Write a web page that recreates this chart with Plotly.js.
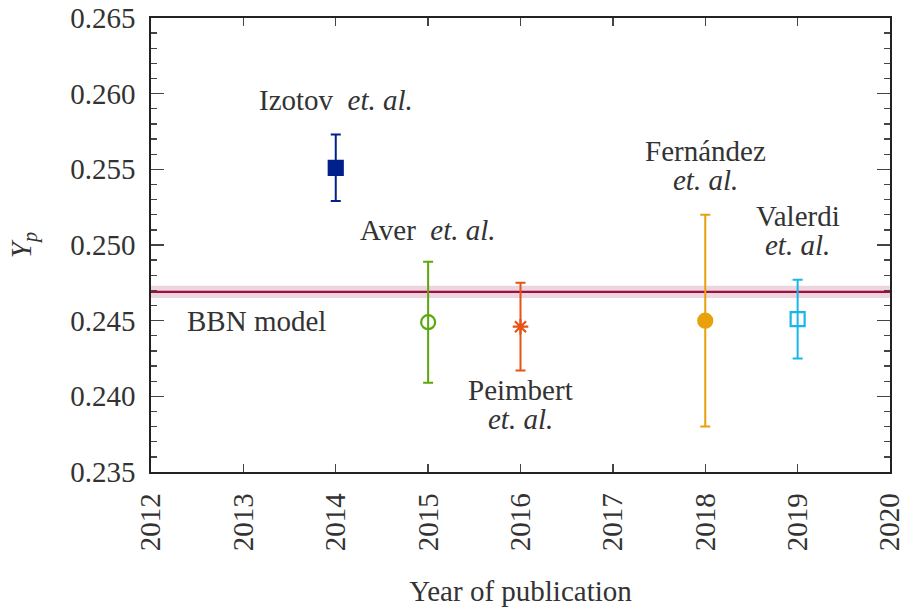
<!DOCTYPE html>
<html>
<head>
<meta charset="utf-8">
<script src="https://cdn.plot.ly/plotly-3.0.1.min.js"></script>
<style>
  body { margin: 0; }
  #chart text { font-family: "Liberation Serif" !important; }
</style>
</head>
<body>
<div id="chart" style="width:902px;height:610px"></div>
<script>
// Primordial helium abundance determinations by year of publication
const authors = ["Izotov", "Aver", "Peimbert", "Fernández", "Valerdi"];
const years = [2014, 2015, 2016, 2018, 2019];
const yp = [0.2551, 0.2449, 0.2446, 0.2450, 0.2451];
const ypErr = [0.0022, 0.0040, 0.0029, 0.0070, 0.0026];
const colors = ["#00208c", "#5aa80c", "#e65314", "#e8a10c", "#17b7ea"];
const symbols = ["square", "circle-open", "asterisk-open", "circle", "square-open"];

// BBN prediction and its uncertainty band
const bbnValue = 0.2469;
const bbnErr = 0.0004;
const yearRange = [2012, 2020];
const yTicks = [0.235, 0.240, 0.245, 0.250, 0.255, 0.260, 0.265];
const xTicks = [2012, 2013, 2014, 2015, 2016, 2017, 2018, 2019, 2020];

const SERIF = "Liberation Serif";
const TXT = "#333333";
const FS = 29;

const traces = [];
traces.push({
  x: [yearRange[0], yearRange[1], yearRange[1], yearRange[0]],
  y: [bbnValue - bbnErr, bbnValue - bbnErr, bbnValue + bbnErr, bbnValue + bbnErr],
  fill: "toself", fillcolor: "#ebd5de", mode: "none", hoverinfo: "skip", showlegend: false
});
traces.push({
  x: yearRange, y: [bbnValue, bbnValue], mode: "lines",
  line: {color: "#a10d40", width: 2.2}, showlegend: false
});
authors.forEach((a, i) => {
  traces.push({
    x: [years[i]], y: [yp[i]], name: a, mode: "markers", showlegend: false,
    error_y: {type: "data", array: [ypErr[i]], visible: true, color: colors[i], thickness: 2, width: 5},
    marker: {
      symbol: symbols[i], color: colors[i],
      size: symbols[i] === "asterisk-open" ? 13 : 14,
      line: {color: colors[i], width: 2.2}
    }
  });
});

// Labels next to each measurement
const ann = (x, y, text) => ({
  x, y, xref: "x", yref: "y", text, showarrow: false,
  font: {family: SERIF, size: FS, color: TXT}, xanchor: "center", yanchor: "middle"
});
const ea = "<i>et. al.</i>";
const annotations = [
  ann(2014.0, 0.2596, authors[0] + "  " + ea),
  ann(2015.0, 0.2510, authors[1] + "  " + ea),
  ann(2016.0, 0.2404, authors[2]),
  ann(2016.0, 0.2385, ea),
  ann(2018.0, 0.2562, authors[3]),
  ann(2018.0, 0.2543, ea),
  ann(2019.0, 0.2519, authors[4]),
  ann(2019.0, 0.2500, ea),
  ann(2013.14, 0.2450, "BBN model")
];

const layout = {
  width: 902, height: 610,
  margin: {l: 151, r: 12, t: 18, b: 138},
  font: {family: SERIF, size: FS, color: TXT},
  showlegend: false,
  xaxis: {
    range: yearRange, tickvals: xTicks, ticktext: xTicks.map(String),
    tickangle: -90, ticks: "inside", ticklen: 8, tickwidth: 1.3, tickcolor: "#444",
    ticklabeloverflow: "allow", ticklabelstandoff: 8,
    showline: true, linecolor: "#222", linewidth: 1.6, mirror: "ticks",
    showgrid: false, zeroline: false,
    tickfont: {family: SERIF, size: FS, color: TXT},
    title: {text: "Year of publication", font: {family: SERIF, size: FS, color: TXT}, standoff: 30}
  },
  yaxis: {
    range: [0.235, 0.265], tickvals: yTicks, ticktext: yTicks.map(v => v.toFixed(3)),
    ticks: "inside", ticklen: 13, tickwidth: 1.3, tickcolor: "#444",
    ticklabeloverflow: "allow", ticklabelstandoff: 8,
    minor: {dtick: 0.001, tick0: 0.235, ticks: "inside", ticklen: 6, tickwidth: 1.3, tickcolor: "#444", showgrid: false},
    showline: true, linecolor: "#222", linewidth: 1.6, mirror: "ticks",
    showgrid: false, zeroline: false,
    tickfont: {family: SERIF, size: FS, color: TXT},
    title: {text: "<i>Y</i><sub><i>p</i></sub>", font: {family: SERIF, size: FS, color: TXT}, standoff: 30}
  },
  annotations
};

Plotly.newPlot("chart", traces, layout, {displayModeBar: false, staticPlot: true});
</script>
</body>
</html>
